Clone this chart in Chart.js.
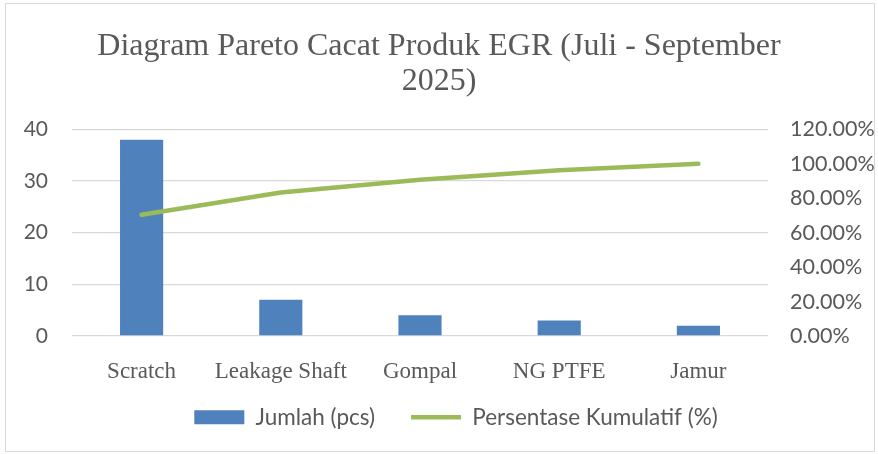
<!DOCTYPE html>
<html>
<head>
<meta charset="utf-8">
<script src="https://cdn.jsdelivr.net/npm/chart.js@4"></script>
<style>
  html, body { margin: 0; padding: 0; background: #fff; }
  #wrap { width: 878px; height: 455px; }
</style>
</head>
<body>
<div id="wrap"><canvas id="pareto" width="878" height="455"></canvas></div>
<script>
// data
const categories = ['Scratch', 'Leakage Shaft', 'Gompal', 'NG PTFE', 'Jamur'];
const jumlah = [38, 7, 4, 3, 2];
const kumulatif = [70.37, 83.33, 90.74, 96.30, 100.00];
const leftTicks = [0, 10, 20, 30, 40];
const rightTicks = [0, 20, 40, 60, 80, 100, 120];

const grey = '#595959';
const sans = 'Lato';
const serif = '"Liberation Serif", "Times New Roman", serif';

// light frame round the whole chart
const framePlugin = {
  id: 'frame',
  beforeDraw(chart) {
    const ctx = chart.ctx;
    ctx.save();
    ctx.fillStyle = '#fff';
    ctx.fillRect(0, 0, chart.width, chart.height);
    ctx.strokeStyle = '#d9d9d9';
    ctx.lineWidth = 1;
    ctx.strokeRect(5.5, 3.5, 869, 448);
    ctx.restore();
  }
};

// the excel legend sits a bit right of centre and close under the labels
const legendShift = {
  id: 'legendShift',
  afterLayout(chart) {
    const lg = chart.legend;
    if (!lg) { return; }
    lg.left += 17;
    lg.right += 17;
    lg.top -= 14;
    lg.height = 90;
    lg.bottom = lg.top + lg.height;
  }
};

const ctx = document.getElementById('pareto');
new Chart(ctx, {
  data: {
    labels: categories,
    datasets: [
      {
        type: 'bar',
        label: 'Jumlah (pcs)',
        data: jumlah,
        backgroundColor: '#4F81BD',
        borderWidth: 0,
        barPercentage: 0.31,
        categoryPercentage: 1,
        yAxisID: 'y',
        pointStyle: 'rect',
        order: 1
      },
      {
        type: 'line',
        label: 'Persentase Kumulatif (%)',
        data: kumulatif,
        borderColor: '#9BBB59',
        backgroundColor: '#9BBB59',
        borderWidth: 4.5,
        borderCapStyle: 'round',
        pointRadius: 0,
        pointStyle: 'line',
        tension: 0,
        yAxisID: 'y1',
        order: 0
      }
    ]
  },
  options: {
    responsive: false,
    animation: false,
    layout: { padding: { left: 0, right: 0, top: 0, bottom: 14 } },
    plugins: {
      title: {
        display: true,
        text: ['Diagram Pareto Cacat Produk EGR (Juli - September', '2025)'],
        color: grey,
        font: { family: serif, size: 32, weight: 'normal', lineHeight: 1.1 },
        padding: { top: 29, bottom: 30 }
      },
      legend: {
        position: 'bottom',
        maxHeight: 57,
        labels: {
          sort: (a, b) => a.datasetIndex - b.datasetIndex,
          usePointStyle: true,
          pointStyleWidth: 50,
          boxHeight: 14,
          padding: 36,
          color: grey,
          font: { family: sans, size: 22.5 }
        }
      },
      tooltip: { enabled: false }
    },
    scales: {
      x: {
        offset: true,
        grid: { display: false },
        border: { display: false },
        ticks: {
          color: grey,
          padding: 14,
          font: { family: serif, size: 23 }
        },
        afterFit(scale) { scale.height = 48; }
      },
      y: {
        position: 'left',
        min: 0,
        max: 40,
        afterBuildTicks(scale) { scale.ticks = leftTicks.map((v) => ({ value: v })); },
        grid: { color: '#d9d9d9', drawTicks: false, lineWidth: 1.3 },
        border: { display: false },
        ticks: {
          color: grey,
          padding: 24,
          font: { family: sans, size: 21 }
        },
        afterFit(scale) { scale.width = 72; }
      },
      y1: {
        position: 'right',
        min: 0,
        max: 120,
        afterBuildTicks(scale) { scale.ticks = rightTicks.map((v) => ({ value: v })); },
        grid: { display: false },
        border: { display: false },
        ticks: {
          color: grey,
          padding: 14,
          font: { family: sans, size: 21.5 },
          callback: (v) => v.toFixed(2) + '%'
        },
        afterFit(scale) { scale.width = 110; }
      }
    }
  },
  plugins: [framePlugin, legendShift]
});
</script>
</body>
</html>
